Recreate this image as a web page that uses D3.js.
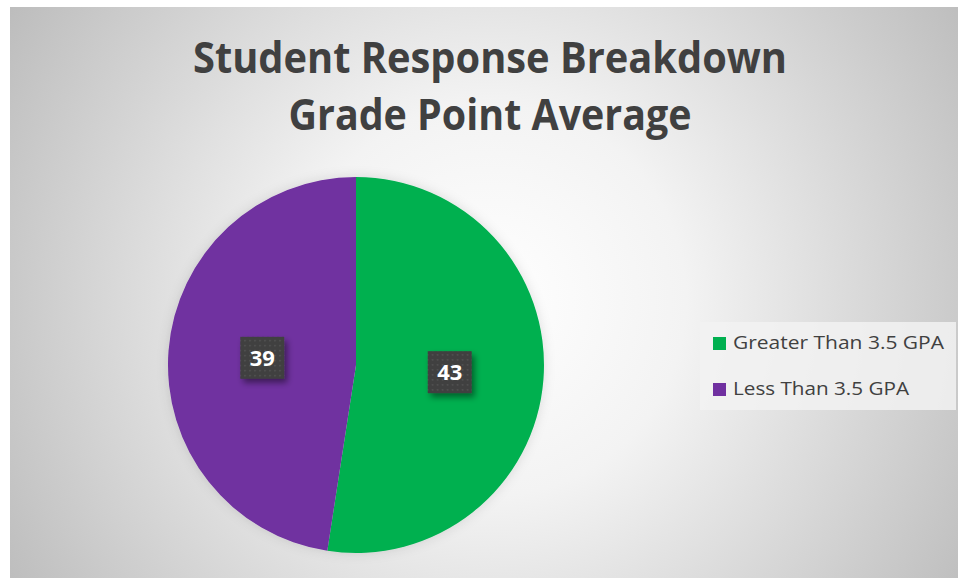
<!DOCTYPE html>
<html><head><meta charset="utf-8">
<script src="https://cdn.jsdelivr.net/npm/d3@7"></script>
<style>html,body{margin:0;padding:0;background:#fff;}svg{display:block;}</style>
</head><body>
<script>
const categories = ["Greater Than 3.5 GPA", "Less Than 3.5 GPA"];
const values = [43, 39];
const colors = ["#00B050", "#7030A0"];
const titleLines = ["Student Response Breakdown", "Grade Point Average"];

const W = 960, H = 578;
const svg = d3.select("body").append("svg").attr("width", W).attr("height", H);
const defs = svg.append("defs");

const rg = defs.append("radialGradient").attr("id", "bg")
  .attr("gradientUnits", "userSpaceOnUse")
  .attr("cx", 490).attr("cy", 300).attr("r", 560);
rg.append("stop").attr("offset", "0%").attr("stop-color", "#ffffff");
rg.append("stop").attr("offset", "35%").attr("stop-color", "#f3f3f3");
rg.append("stop").attr("offset", "100%").attr("stop-color", "#bdbdbd");

const pat = defs.append("pattern").attr("id", "dots").attr("patternUnits", "userSpaceOnUse")
  .attr("width", 5).attr("height", 5);
pat.append("rect").attr("width", 5).attr("height", 5).attr("fill", "#3f3f3f");
pat.append("rect").attr("x", 2).attr("y", 2).attr("width", 1.5).attr("height", 1.5).attr("fill", "#575757");

const sh = defs.append("filter").attr("id", "shadow").attr("x", "-30%").attr("y", "-30%").attr("width", "170%").attr("height", "170%");
sh.append("feDropShadow").attr("dx", 3).attr("dy", 4).attr("stdDeviation", 3).attr("flood-color", "#000").attr("flood-opacity", 0.45);

const psh = defs.append("filter").attr("id", "pshadow").attr("x", "-20%").attr("y", "-20%").attr("width", "140%").attr("height", "140%");
psh.append("feDropShadow").attr("dx", 0).attr("dy", 0).attr("stdDeviation", 6).attr("flood-color", "#000").attr("flood-opacity", 0.12);

svg.append("rect").attr("x", 10).attr("y", 7).attr("width", 948).attr("height", 571).attr("fill", "url(#bg)");

// Title
const title = svg.append("g");
titleLines.forEach((t, i) => {
  title.append("text")
    .attr("x", 490).attr("y", 73 + i * 57)
    .attr("text-anchor", "middle")
    .attr("font-family", "'Open Sans', sans-serif")
    .attr("font-weight", 700)
    .attr("font-size", 43)
    .attr("fill", "#404040")
    .attr("textLength", i === 0 ? 594 : 403)
    .attr("lengthAdjust", "spacingAndGlyphs")
    .text(t);
});

// Pie
const cx = 356, cy = 365, R = 188;
const pie = d3.pie().sort(null).value(d => d);
const arcs = pie(values);
const arc = d3.arc().innerRadius(0).outerRadius(R);
const labelArc = d3.arc().innerRadius(R * 0.5).outerRadius(R * 0.5);
const g = svg.append("g").attr("transform", `translate(${cx},${cy})`);
g.append("g").attr("filter", "url(#pshadow)")
  .selectAll("path").data(arcs).join("path")
  .attr("d", arc).attr("fill", (d, i) => colors[i]);

const lab = g.selectAll("g.lab").data(arcs).join("g").attr("class", "lab")
  .attr("transform", d => `translate(${labelArc.centroid(d)})`);
lab.append("rect").attr("x", -22).attr("y", -21).attr("width", 44).attr("height", 42)
  .attr("fill", "url(#dots)").attr("filter", "url(#shadow)");
lab.append("text").attr("text-anchor", "middle").attr("y", 8)
  .attr("font-family", "'Open Sans', sans-serif").attr("font-weight", 700)
  .attr("font-size", 22).attr("fill", "#ffffff")
  .text(d => d.data);

// Legend
const lg = svg.append("g");
lg.append("rect").attr("x", 700).attr("y", 322).attr("width", 256).attr("height", 88)
  .attr("fill", "#f2f2f2").attr("fill-opacity", 0.85);
const items = lg.selectAll("g.item").data(categories).join("g").attr("class", "item")
  .attr("transform", (d, i) => `translate(713,${337 + i * 46})`);
items.append("rect").attr("width", 13).attr("height", 13).attr("fill", (d, i) => colors[i]);
items.append("text").attr("x", 20).attr("y", 12)
  .attr("font-family", "'Open Sans', sans-serif").attr("font-size", 18.5)
  .attr("fill", "#404040")
  .attr("textLength", (d, i) => i === 0 ? 211 : 176)
  .attr("lengthAdjust", "spacingAndGlyphs")
  .text(d => d);
</script>
</body></html>
